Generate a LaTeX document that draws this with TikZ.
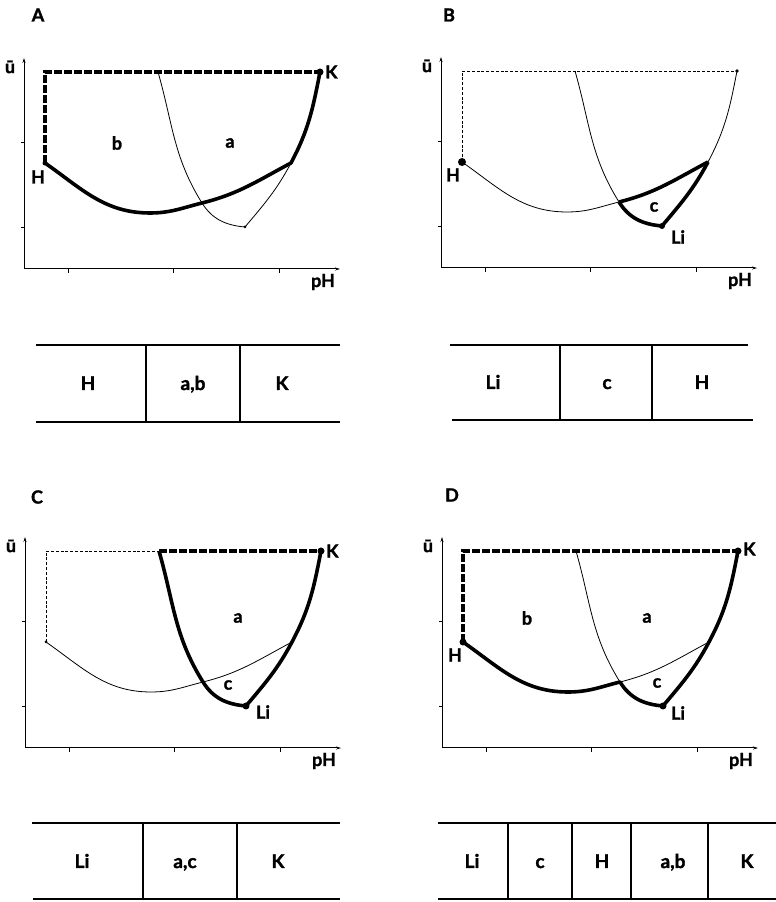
\documentclass[tikz,border=0pt]{standalone}
\usepackage{fontspec}
\setmainfont{Lato}[BoldFeatures={FakeBold=1.6}]
\usetikzlibrary{arrows.meta}

\tikzset{
  fine/.style={line width=0.8pt},
  fat/.style={line width=3.6pt, line join=round},
  finedash/.style={fine, dash pattern=on 3pt off 1.8pt},
  fatdash/.style={line width=3.2pt, dash pattern=on 8pt off 2pt},
  axis/.style={line width=1pt, -{Stealth[length=5pt,width=3pt]}},
  lbl/.style={inner sep=0pt, font=\bfseries\fontsize{18}{18}\selectfont},
  cell/.style={inner sep=0pt, anchor=base, font=\bfseries\fontsize{19}{19}\selectfont},
  rule/.style={line width=1.3pt},
  % pieces of the two curves
  tx/.style={out=-74, in=122},
  xl/.style={out=-58, in=175},
  le/.style={out=50, in=-118},
  ek/.style={out=62, in=-101},
  hm/.style={out=-35, in=180},
  mx/.style={out=0, in=-166},
  xe/.style={out=14, in=-152},
}

% axes and the fixed points of one graph
\newcommand{\graphframe}{%
  \draw[axis] (0,0) -- (316,0);
  \draw[axis] (0,0) -- (0,211);
  \foreach \u in {44,149,255} \draw[fine] (\u,0) -- (\u,-4);
  \foreach \v in {42,127} \draw[fine] (0,\v) -- (-3,\v);
  \node[lbl] (ubar) at (-14,202) {ū};
  \node[lbl] (ph) at (299,-13) {pH};
  \coordinate (H) at (21,106);
  \coordinate (C) at (21,197);
  \coordinate (T) at (134,197);
  \coordinate (K) at (296,197);
  \coordinate (M) at (126,56);
  \coordinate (X) at (178,66);
  \coordinate (Li) at (221,42);
  \coordinate (E) at (267,106);
}

\begin{document}
\begin{tikzpicture}[x=1pt,y=1pt]
\useasboundingbox (0,0) rectangle (776,902);

% panel A
\begin{scope}[shift={(24,633)}]
\graphframe
\node[lbl] (tagA) at (14,254) {A};
\draw[fine] (T) to[tx] (X) to[xl] (Li) to[le] (E);
\draw[fatdash] (H) -- (C) -- (K);
\draw[fat] (H) to[hm] (M) to[mx] (X) to[xe] (E) to[ek] (K);
\fill (H) circle (2.5); \fill (K) circle (3.5); \fill (Li) circle (1.5);
\node[lbl,anchor=west] (kA) at (301,197) {K};
\node[lbl] (hA) at (14,92) {H};
\node[lbl] (bA) at (93,126) {b};
\node[lbl] (aA) at (206,126) {a};
\draw[rule] (12,-76) -- (316,-76);
\draw[rule] (12,-153) -- (316,-153);
\draw[rule] (122,-76) -- (122,-153);
\draw[rule] (216,-76) -- (216,-153);
\node[cell] (sA1) at (64,-121) {H};
\node[cell] (sA2) at (169,-121) {a,b};
\node[cell] (sA3) at (258,-121) {K};
\end{scope}

% panel B
\begin{scope}[shift={(441,634)}]
\graphframe
\node[lbl] (tagB) at (8,253) {B};
\draw[finedash] (H) -- (C) -- (K);
\draw[fine] (T) to[tx] (X);
\draw[fine] (H) to[hm] (M) to[mx] (X);
\draw[fine] (E) to[ek] (K);
\draw[fat] (X) to[xl] (Li) to[le] (E);
\draw[fat] (X) to[xe] (E);
\fill (H) circle (4); \fill (K) circle (1.8); \fill (Li) circle (3);
\node[lbl] (hB) at (12,93) {H};
\node[lbl] (liB) at (237,31) {Li};
\node[lbl] (cB) at (213,61) {c};
\draw[rule] (9,-77) -- (307,-77);
\draw[rule] (11,-152) -- (312,-152);
\draw[rule] (119,-77) -- (119,-152);
\draw[rule] (211,-77) -- (211,-152);
\node[cell] (sB1) at (52,-121) {Li};
\node[cell] (sB2) at (166,-121) {c};
\node[cell] (sB3) at (261,-121) {H};
\end{scope}

% panel C
\begin{scope}[shift={(25,154)}]
\graphframe
\node[lbl] (tagC) at (12,251) {C};
\draw[finedash] (H) -- (C) -- (T);
\draw[fatdash] (T) -- (K);
\draw[fine] (H) to[hm] (M) to[mx] (X) to[xe] (E);
\draw[fat] (T) to[tx] (X) to[xl] (Li) to[le] (E) to[ek] (K);
\fill (H) circle (1.5); \fill (K) circle (3.5); \fill (Li) circle (3.5);
\node[lbl,anchor=west] (kC) at (301,197) {K};
\node[lbl] (liC) at (238,36) {Li};
\node[lbl] (aC) at (213,130) {a};
\node[lbl] (cC) at (203,63) {c};
\draw[rule] (7,-75) -- (315,-75);
\draw[rule] (8,-151) -- (315,-151);
\draw[rule] (118,-75) -- (118,-151);
\draw[rule] (212,-75) -- (212,-151);
\node[cell] (sC1) at (57,-120) {Li};
\node[cell] (sC2) at (160,-120) {a,c};
\node[cell] (sC3) at (253,-120) {K};
\end{scope}

% panel D
\begin{scope}[shift={(442,154)}]
\graphframe
\node[lbl] (tagD) at (10,253) {D};
\draw[fine] (T) to[tx] (X);
\draw[fine] (X) to[xe] (E);
\draw[fatdash] (H) -- (C) -- (K);
\draw[fat] (H) to[hm] (M) to[mx] (X) to[xl] (Li) to[le] (E) to[ek] (K);
\fill (H) circle (3.5); \fill (K) circle (3.5); \fill (Li) circle (3.5);
\node[lbl,anchor=west] (kD) at (301,199) {K};
\node[lbl] (hD) at (13,93) {H};
\node[lbl] (liD) at (236,35) {Li};
\node[lbl] (bD) at (85,130) {b};
\node[lbl] (aD) at (205,130) {a};
\node[lbl] (cD) at (215,65) {c};
\draw[rule] (-4,-75) -- (334,-75);
\draw[rule] (-4,-151) -- (334,-151);
\foreach \u in {66,130,189,266} \draw[rule] (\u,-75) -- (\u,-151);
\node[cell] (sD1) at (30,-120) {Li};
\node[cell] (sD2) at (98,-120) {c};
\node[cell] (sD3) at (160,-120) {H};
\node[cell] (sD4) at (231,-120) {a,b};
\node[cell] (sD5) at (305,-120) {K};
\end{scope}
\end{tikzpicture}
\end{document}
